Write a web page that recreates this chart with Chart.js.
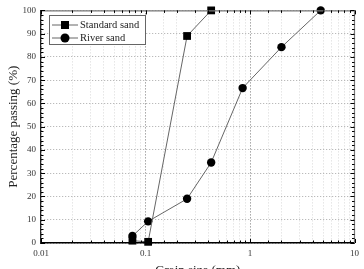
<!DOCTYPE html>
<html>
<head>
<meta charset="utf-8">
<script src="https://cdn.jsdelivr.net/npm/chart.js@4"></script>
<style>
  html, body { margin: 0; padding: 0; background: #fff; overflow: hidden; }
  #wrap { width: 364px; height: 269px; overflow: hidden; }
</style>
</head>
<body>
<div id="wrap"><canvas id="sieve" width="364" height="282"></canvas></div>
<script>
// grain sizes (mm) and percentage passing
const standardSize = [0.075, 0.106, 0.25, 0.425];
const standardPass = [1, 0.5, 89, 100];
const riverSize = [0.075, 0.106, 0.25, 0.425, 0.85, 2, 4.75];
const riverPass = [3, 9.3, 19, 34.6, 66.6, 84.2, 100];
const xLabels = [0.01, 0.1, 1, 10];
const yLabels = [0, 10, 20, 30, 40, 50, 60, 70, 80, 90, 100];

const serif = "'Liberation Serif', 'Times New Roman', serif";

function toPoints(xs, ys) {
    return xs.map((x, i) => ({ x: x, y: ys[i] }));
}

function isDecade(v) {
    const l = Math.log10(v);
    return Math.abs(l - Math.round(l)) < 1e-6;
}

// frame, inward tick marks and legend box
const framePlugin = {
    id: 'frame',
    afterDraw(chart) {
        const c = chart.ctx;
        const a = chart.chartArea;
        const xs = chart.scales.x;
        const ys = chart.scales.y;
        c.save();
        c.strokeStyle = '#777';
        c.lineWidth = 1.2;
        c.beginPath();
        c.moveTo(a.left, a.top + 0.5);
        c.lineTo(a.right, a.top + 0.5);
        c.lineTo(a.right, a.bottom);
        c.stroke();

        c.strokeStyle = '#000';
        c.lineWidth = 1;
        c.beginPath();
        xs.ticks.forEach(t => {
            const px = Math.round(xs.getPixelForValue(t.value)) + 0.5;
            const len = isDecade(t.value) ? 4 : 2.5;
            c.moveTo(px, a.bottom);
            c.lineTo(px, a.bottom - len);
            c.moveTo(px, a.top);
            c.lineTo(px, a.top + len);
        });
        ys.ticks.forEach(t => {
            const py = Math.round(ys.getPixelForValue(t.value)) + 0.5;
            const len = t.value % 10 === 0 ? 4 : 2.5;
            c.moveTo(a.left, py);
            c.lineTo(a.left + len, py);
            c.moveTo(a.right, py);
            c.lineTo(a.right - len, py);
        });
        c.stroke();

        // legend
        const bx = 49, by = 15, bw = 96, bh = 29;
        c.fillStyle = '#fff';
        c.fillRect(bx, by, bw, bh);
        c.strokeStyle = '#666';
        c.lineWidth = 1;
        c.strokeRect(bx + 0.5, by + 0.5, bw, bh);
        chart.data.datasets.forEach((ds, i) => {
            const ry = by + 10 + i * 13;
            c.strokeStyle = ds.borderColor;
            c.lineWidth = 1;
            c.beginPath();
            c.moveTo(bx + 3, ry);
            c.lineTo(bx + 29, ry);
            c.stroke();
            c.fillStyle = '#000';
            c.beginPath();
            if (ds.pointStyle === 'rect') {
                c.rect(bx + 16 - 4, ry - 4, 8, 8);
            } else {
                c.arc(bx + 16, ry, 4.5, 0, Math.PI * 2);
            }
            c.fill();
            c.fillStyle = '#222';
            c.font = '10.5px ' + serif;
            c.textBaseline = 'middle';
            c.textAlign = 'left';
            c.fillText(ds.label, bx + 31, ry + 0.5);
        });
        c.restore();
    }
};

const ctx = document.getElementById('sieve').getContext('2d');
const sieveChart = new Chart(ctx, {
    type: 'line',
    data: {
        datasets: [{
            label: 'Standard sand',
            data: toPoints(standardSize, standardPass),
            borderColor: '#666',
            borderWidth: 1,
            pointStyle: 'rect',
            pointRadius: 5.5,
            pointBackgroundColor: '#000',
            pointBorderColor: '#000',
            pointBorderWidth: 0,
            clip: false
        }, {
            label: 'River sand',
            data: toPoints(riverSize, riverPass),
            borderColor: '#666',
            borderWidth: 1,
            pointStyle: 'circle',
            pointRadius: 4.2,
            pointBackgroundColor: '#000',
            pointBorderColor: '#000',
            pointBorderWidth: 0,
            clip: false
        }]
    },
    options: {
        responsive: false,
        animation: false,
        layout: { padding: { left: 0, top: 10, right: 6, bottom: 0 } },
        plugins: {
            legend: { display: false },
            tooltip: { enabled: false }
        },
        scales: {
            x: {
                type: 'logarithmic',
                min: 0.01,
                max: 10,
                afterFit: s => { s.height = 39; },
                grid: {
                    drawTicks: false,
                    lineWidth: 1,
                    color: c => isDecade(c.tick.value) ? '#777' : '#d8d8d8'
                },
                border: { display: true, color: '#000', width: 1.5, dash: [1, 2] },
                ticks: {
                    autoSkip: false,
                    maxRotation: 0,
                    padding: 5,
                    color: '#333',
                    font: { family: serif, size: 9 },
                    callback: v => xLabels.includes(v) ? String(v) : ''
                },
                title: {
                    display: true,
                    text: 'Grain size (mm)',
                    color: '#222',
                    font: { family: serif, size: 13 },
                    padding: { top: 0, bottom: 4 }
                }
            },
            y: {
                min: 0,
                max: 100,
                afterFit: s => { s.width = 41; },
                grid: {
                    drawTicks: false,
                    lineWidth: 1,
                    color: c => yLabels.includes(c.tick.value) ? '#aaa' : 'rgba(0,0,0,0)'
                },
                border: { display: true, color: '#222', width: 1.2, dash: [1, 2] },
                ticks: {
                    stepSize: 2,
                    autoSkip: false,
                    padding: 5,
                    color: '#333',
                    font: { family: serif, size: 9 },
                    callback: v => yLabels.includes(v) ? String(v) : ''
                },
                title: {
                    display: true,
                    text: 'Percentage passing (%)',
                    color: '#222',
                    font: { family: serif, size: 13 },
                    padding: { top: 6, bottom: 0 }
                }
            }
        }
    },
    plugins: [framePlugin]
});
</script>
</body>
</html>
